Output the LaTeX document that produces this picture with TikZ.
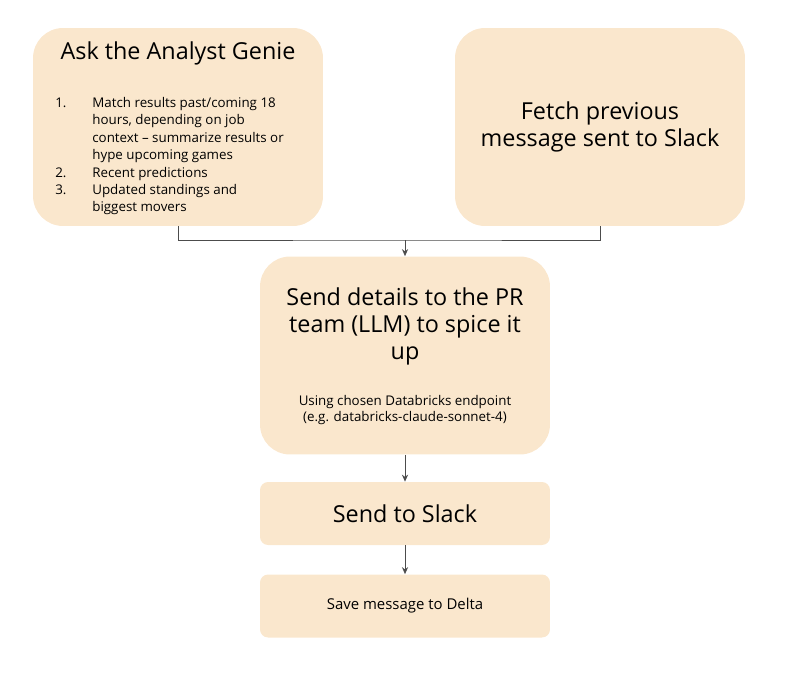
\documentclass[tikz,border=0pt]{standalone}
\usepackage{fontspec}
\usepackage{array}
\setmainfont{Open Sans}
\usetikzlibrary{positioning, arrows.meta}
\definecolor{peach}{RGB}{250,231,205}
\begin{document}
\begin{tikzpicture}[
    x=0.02cm, y=-0.02cm,
    box/.style={rectangle, fill=peach, rounded corners=0.6cm, minimum width=5.8cm, minimum height=3.96cm, inner sep=0pt},
    flat/.style={rectangle, fill=peach, rounded corners=0.16cm, minimum width=5.8cm, minimum height=1.26cm, inner sep=0pt},
    big/.style={align=center, font=\fontsize{13.3}{15.4}\selectfont},
    small/.style={align=center, font=\fontsize{7.6}{9.2}\selectfont},
    link/.style={draw=black!70, line width=0.5pt},
    arr/.style={link, -{Stealth[length=4pt, width=3.5pt]}}
]
\useasboundingbox (0,0) rectangle (800,672);

% Boxes
\node[box] (genie) at (178,127) {};
\node[box] (fetch) at (600,127) {};
\node[box] (pr) at (405,355.5) {};
\node[flat] (slack) at (405,513.5) {};
\node[flat] (delta) at (405,606) {};

% Texts
\node[big] (genietitle) at (178,53) {Ask the Analyst Genie};
\node[anchor=north west, inner sep=0pt, font=\fontsize{7.6}{9.9}\selectfont] (genielist) at (55,95) {%
  \begin{tabular}{@{}p{0.74cm}@{}>{\raggedright\arraybackslash}p{4.6cm}@{}}
  1. & Match results past/coming 18\newline hours, depending on job\newline context -- summarize results or\newline hype upcoming games\\
  2. & Recent predictions\\
  3. & Updated standings and\newline biggest movers
  \end{tabular}};
\node[big] at (fetch.center) {Fetch previous\\message sent to Slack};
\node[big] (prtitle) at (405,326) {Send details to the PR\\team (LLM) to spice it\\up};
\node[small] at (405,410) {Using chosen Databricks endpoint\\(e.g. databricks-claude-sonnet-4)};
\node[big] at (slack.center) {Send to Slack};
\node[small, font=\fontsize{8.5}{10}\selectfont] at (delta.center) {Save message to Delta};

% Connectors
\coordinate (join) at (405,240);
\draw[link] (genie.south) |- (join) -| (fetch.south);
\draw[arr] (join) -- (pr.north);
\draw[arr] (pr.south) -- (slack.north);
\draw[arr] (slack.south) -- (delta.north);
\end{tikzpicture}
\end{document}
